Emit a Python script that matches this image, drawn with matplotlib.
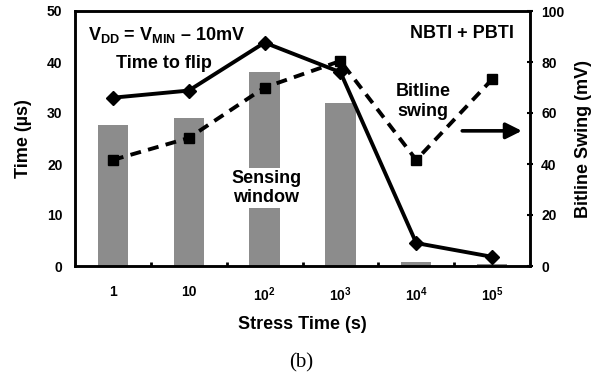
import matplotlib.pyplot as plt
import numpy as np

plt.rcParams['font.family'] = ['Liberation Sans', 'DejaVu Sans']
plt.rcParams['font.weight'] = 'bold'
plt.rcParams['mathtext.fontset'] = 'custom'
plt.rcParams['mathtext.rm'] = 'Liberation Sans:bold'
plt.rcParams['mathtext.bf'] = 'Liberation Sans:bold'
plt.rcParams['mathtext.it'] = 'Liberation Sans:bold'

# stress time categories
stress_labels = ['1', '10', r'$10^2$', r'$10^3$', r'$10^4$', r'$10^5$']
# sensing window (us), left axis bars
sensing_window = [27.6, 29.0, 38.1, 32.0, 0.7, 0.45]
# time to flip (us), left axis
time_to_flip = [33.0, 34.4, 43.8, 38.0, 4.5, 1.8]
# bitline swing (mV), right axis
bitline_swing = [41.6, 50.2, 70.0, 80.4, 41.6, 73.2]

x = np.arange(len(stress_labels))

fig = plt.figure(figsize=(6.02, 3.79), dpi=100)
ax = fig.add_axes([75 / 602, 1 - 266 / 379, 455 / 602, 255 / 379])
ax2 = ax.twinx()

ax.bar(x, sensing_window, width=0.4, color='#8c8c8c', zorder=1)
# time to flip is on the left scale, drawn on ax2 so it sits above the bars
ax2.plot(x, time_to_flip, color='black', lw=2.8, marker='D', ms=7.5,
         transform=ax.transData, zorder=3)
ax2.plot(x, bitline_swing, color='black', lw=2.8, ls=(0, (2.8, 1.9)),
         marker='s', ms=7, zorder=3)

ax.set_xlim(-0.5, 5.5)
ax.set_ylim(0, 50)
ax2.set_ylim(0, 100)

ax.set_xticks(x)
ax.set_xticklabels(stress_labels)
ax.set_xticks(x[:-1] + 0.5, minor=True)
ax.tick_params(axis='x', which='major', length=0, pad=14, labelsize=10)
ax.tick_params(axis='x', which='minor', direction='in', length=3, width=2)
ax.set_yticks(np.arange(0, 51, 10))
ax.tick_params(axis='y', length=0, pad=9, labelsize=10)
ax2.set_yticks(np.arange(0, 101, 20))
ax2.tick_params(axis='y', direction='inout', length=4, width=1.5, pad=6,
                labelsize=10)

for a in (ax, ax2):
    for s in a.spines.values():
        s.set_linewidth(1.8)

ax.set_xlabel('Stress Time (s)', fontsize=13, fontweight='bold')
ax.xaxis.set_label_coords(0.5, -0.195)
ax.set_ylabel('Time (µs)', fontsize=13, fontweight='bold')
ax.yaxis.set_label_coords(-0.095, 0.5)
ax2.set_ylabel('Bitline Swing (mV)', fontsize=13, fontweight='bold')
ax2.yaxis.set_label_coords(1.1, 0.5)

ax.text(-0.33, 45.3, r'V$_{\mathrm{DD}}$ = V$_{\mathrm{MIN}}$ – 10mV',
        fontsize=13, ha='left', va='center')
ax.text(0.67, 39.8, 'Time to flip', fontsize=13, ha='center', va='center')
ax.text(5.29, 45.5, 'NBTI + PBTI', fontsize=13, ha='right', va='center')
ax.text(4.09, 32.3, 'Bitline\nswing', fontsize=13, ha='center', va='center',
        linespacing=1.2)
ax.text(2.02, 15.3, 'Sensing\nwindow', fontsize=13, ha='center', va='center',
        linespacing=1.2, zorder=2,
        bbox=dict(facecolor='white', edgecolor='none', pad=1))

ax2.annotate('', xy=(5.43, 53), xytext=(4.57, 53),
             arrowprops=dict(arrowstyle='-|>', lw=2.6, color='black',
                             mutation_scale=24))

fig.text(0.5, 1 - 363 / 379, '(b)', fontsize=15, ha='center', va='center',
         family='Liberation Serif', fontweight='normal')

fig.savefig('out.png', dpi=100)
